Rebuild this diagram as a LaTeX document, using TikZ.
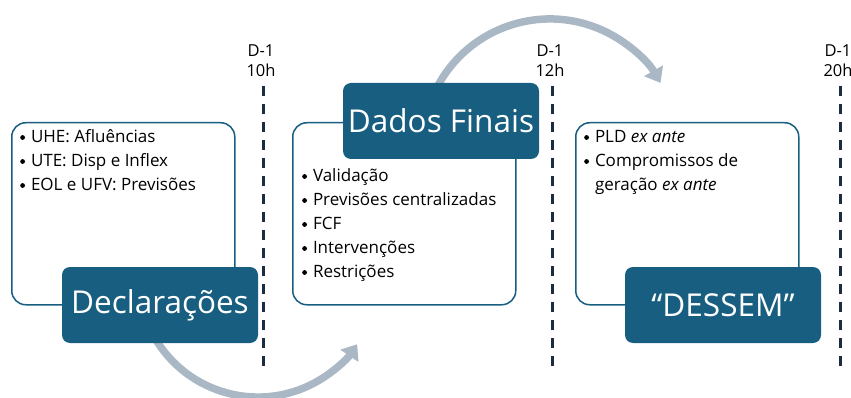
\documentclass[tikz,border=0pt]{standalone}
\usepackage{fontspec}
\setmainfont{Open Sans}
\usetikzlibrary{arrows.meta}
\definecolor{azul}{RGB}{24,94,128}
\definecolor{seta}{RGB}{170,184,198}
\definecolor{linha}{RGB}{28,44,66}
\newcommand{\bala}{\tikz[baseline=-5.5pt]\fill (0,0) circle (2.4pt);}
\newcommand{\marco}[3]{
	\node[font=\fontsize{16.5}{20}\selectfont, align=center] (#1) at (#2-2,61) {D-1\\#3}; % hour label
	\coordinate (#1-top) at (#2,86);
	\coordinate (#1-bot) at (#2,371);
	\draw[linha, line width=3pt, dash pattern=on 10pt off 8pt] (#1-top) -- (#1-bot);
}

\begin{document}
\begin{tikzpicture}[x=1pt,y=-1pt,
	caixa/.style={draw=azul, line width=1.5pt, rounded corners=14pt, fill=white, inner sep=0pt,
		minimum width=223pt, minimum height=182pt, anchor=north west},
	titulo/.style={fill=azul, rounded corners=8pt, text=white, font=\fontsize{31.5}{36}\selectfont,
		minimum width=196pt, minimum height=76pt, inner sep=0pt},
	lista/.style={inner sep=0pt, anchor=north west, font=\fontsize{17}{24}\selectfont},
	fluxo/.style={seta, line width=7.5pt, -{Triangle[width=21pt,length=14pt]}}]
	\useasboundingbox (0,0) rectangle (851,398);
	% arcs behind the boxes
	\coordinate (arco1) at (154.5,337.3);
	\coordinate (arco2) at (437.4,86.6);
	\draw[fluxo] (arco1) arc[start angle=150, end angle=33.9, radius=119.5];
	\draw[fluxo] (arco2) arc[start angle=208, end angle=330.1, radius=127.5];
	
	% time marks
	\marco{m10}{263}{10h}
	\marco{m12}{552}{12h}
	\marco{m20}{840}{20h}
	
	% stage boxes
	\node[caixa] (declbox) at (11,122) {};
	\node[caixa] (dadosbox) at (292,122) {};
	\node[caixa] (dessembox) at (575,122) {};
	\node[titulo] (decl) at (160,305) {Declarações};
	\node[titulo] (dados) at (441,121) {Dados Finais};
	\node[titulo] (dessem) at (723,305) {“DESSEM”};
	
	% bullet lists
	\node[lista] (decllista) at (20,126) {\begin{tabular}{@{}l@{\hspace{6pt}}l@{}}
		\bala & UHE: Afluências\\
		\bala & UTE: Disp e Inflex\\
		\bala & EOL e UFV: Previsões
	\end{tabular}};
	\node[lista] (dadoslista) at (302,165) {\begin{tabular}{@{}l@{\hspace{6pt}}l@{}}
		\bala & Validação\\
		\bala & Previsões centralizadas\\
		\bala & FCF\\
		\bala & Intervenções\\
		\bala & Restrições
	\end{tabular}};
	\node[lista] (dessemlista) at (584,126) {\begin{tabular}{@{}l@{\hspace{6pt}}l@{}}
		\bala & PLD \textit{ex ante}\\
		\bala & Compromissos de\\
		& geração \textit{ex ante}
	\end{tabular}};
\end{tikzpicture}
\end{document}
